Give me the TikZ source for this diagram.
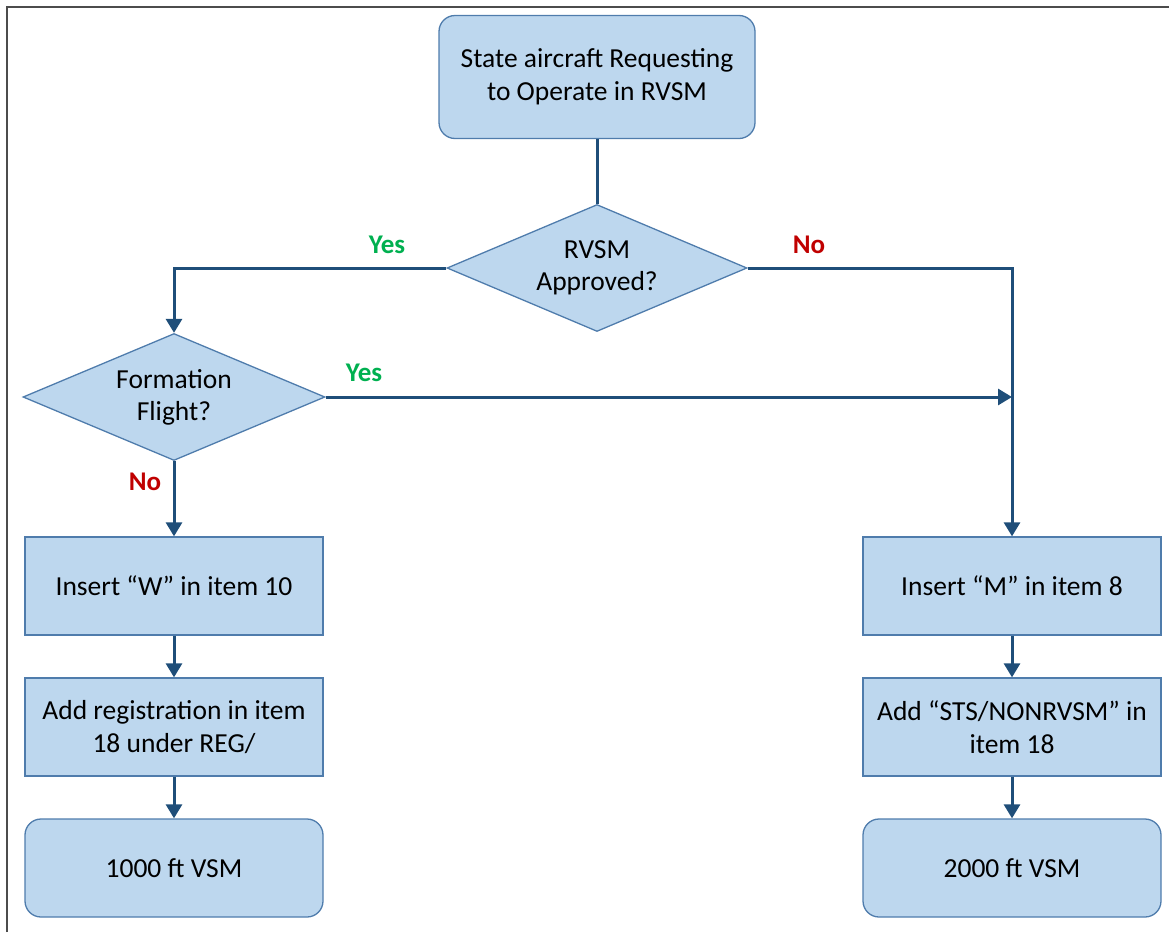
\documentclass[tikz,border=0pt]{standalone}
\usepackage{fontspec}
\setmainfont{Carlito}
\usetikzlibrary{shapes.geometric,arrows.meta}
\definecolor{boxfill}{HTML}{BDD7EE}
\definecolor{boxline}{HTML}{4F7CAC}
\definecolor{flowline}{HTML}{1F4E79}
\definecolor{yescolor}{HTML}{00B050}
\definecolor{nocolor}{HTML}{C00000}

\begin{document}
\begin{tikzpicture}[x = 1pt, y = -1pt,
    stepbox/.style = {fill = boxfill, draw = boxline, line width = 1.3pt, rectangle, minimum width = 298pt, minimum height = 98pt, align = center, font = \fontsize{27.5}{33}\selectfont},
    endbox/.style = {stepbox, rounded corners = 16pt},
    question/.style = {fill = boxfill, draw = boxline, line width = 1.3pt, diamond, shape aspect = 2.37, inner sep = 0pt, minimum width = 300pt, minimum height = 127pt, align = center, font = \fontsize{27.5}{32}\selectfont},
    flow/.style = {line width = 3pt, draw = flowline},
    flowarrow/.style = {flow, -{Triangle[width = 16pt, length = 14pt]}},
    yes/.style = {text = yescolor, font = \fontsize{27}{30}\selectfont\bfseries},
    no/.style = {text = nocolor, font = \fontsize{27}{30}\selectfont\bfseries}]

        \useasboundingbox (0, 0) rectangle (1169, 932);
        \draw [line width = 1.5pt, draw = black!70] (7, 932) -- (7, 7) -- (1169, 7);

        \node [stepbox, rounded corners = 16pt, minimum width = 316pt, minimum height = 123pt] (start) at (597, 77) {State aircraft Requesting\\to Operate in RVSM};
        \node [question] (rvsm) at (597, 268) {RVSM\\Approved?};
        \node [question, minimum width = 302pt] (form) at (174, 397) {Formation\\Flight?};

        \node [stepbox] (w) at (174, 586) {Insert “W” in item 10};
        \node [stepbox] (reg) at (174, 727) {Add registration in item\\18 under REG/};
        \node [endbox] (vsm1) at (174, 868) {1000 ft VSM};

        \node [stepbox] (m) at (1012, 586) {Insert “M” in item 8};
        \node [stepbox] (sts) at (1012, 727) {Add “STS/NONRVSM” in\\item 18};
        \node [endbox] (vsm2) at (1012, 868) {2000 ft VSM};

        \coordinate (join) at (1012, 397);

        % Decisions
        \draw [flow] (start) -- (rvsm);
        \draw [flowarrow] (rvsm.west) -| (form.north);
        \draw [flowarrow] (rvsm.east) -| (m.north);
        \draw [flowarrow] (form.east) -- (join);
        \draw [flowarrow] (form.south) -- (w.north);

        % Steps
        \draw [flowarrow] (w) -- (reg);
        \draw [flowarrow] (reg) -- (vsm1);
        \draw [flowarrow] (m) -- (sts);
        \draw [flowarrow] (sts) -- (vsm2);

        % Labels
        \node [yes] (yes1) at (387, 245) {Yes};
        \node [no] (no1) at (809, 245) {No};
        \node [yes] (yes2) at (364, 373) {Yes};
        \node [no] (no2) at (145, 482) {No};

    \end{tikzpicture}
\end{document}
